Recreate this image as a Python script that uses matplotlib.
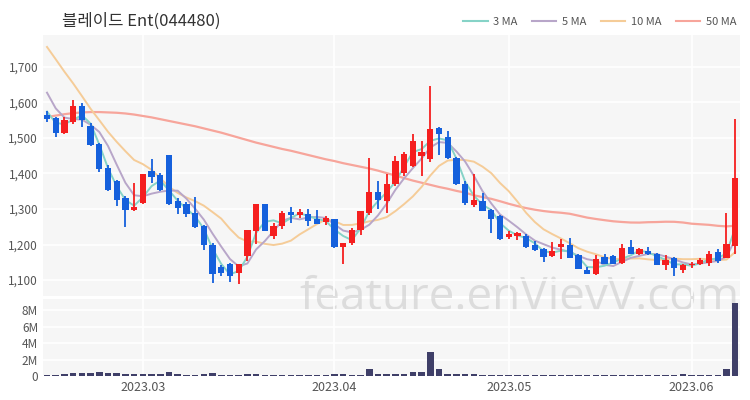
import numpy as np
import matplotlib
matplotlib.use('Agg')
from matplotlib import pyplot as plt
from matplotlib.lines import Line2D
from matplotlib.patches import Rectangle

plt.rcParams['font.family'] = ['Noto Sans CJK KR', 'DejaVu Sans']

title = '블레이드 Ent(044480)'

# daily candles, 80 trading days
opens = [1565, 1556, 1514, 1545, 1590, 1535, 1484, 1415, 1380, 1330,
         1298, 1317, 1407, 1396, 1452, 1322, 1314, 1289, 1252, 1200,
         1137, 1145, 1120, 1168, 1238, 1314, 1224, 1252, 1292, 1283,
         1286, 1272, 1263, 1272, 1193, 1204, 1240, 1289, 1348, 1322,
         1370, 1400, 1421, 1449, 1441, 1528, 1503, 1444, 1370, 1311,
         1322, 1297, 1280, 1221, 1224, 1224, 1199, 1187, 1168, 1193,
         1199, 1170, 1128, 1117, 1165, 1168, 1148, 1193, 1173, 1182,
         1173, 1142, 1162, 1128, 1142, 1145, 1148, 1179, 1162, 1196]
highs = [1575, 1558, 1559, 1607, 1598, 1541, 1487, 1425, 1383, 1336,
         1373, 1398, 1440, 1400, 1452, 1331, 1320, 1334, 1255, 1203,
         1142, 1148, 1145, 1240, 1314, 1314, 1260, 1295, 1306, 1300,
         1300, 1297, 1280, 1272, 1204, 1246, 1294, 1444, 1380, 1398,
         1449, 1460, 1511, 1491, 1646, 1531, 1520, 1447, 1378, 1398,
         1345, 1300, 1283, 1238, 1235, 1230, 1210, 1190, 1207, 1215,
         1218, 1173, 1137, 1170, 1173, 1170, 1201, 1213, 1190, 1193,
         1176, 1170, 1165, 1145, 1150, 1162, 1182, 1187, 1289, 1553]
lows = [1545, 1503, 1510, 1540, 1531, 1478, 1404, 1350, 1308, 1250,
        1295, 1315, 1373, 1350, 1312, 1286, 1277, 1247, 1185, 1092,
        1111, 1094, 1089, 1153, 1201, 1238, 1215, 1243, 1260, 1275,
        1252, 1258, 1255, 1190, 1145, 1200, 1227, 1283, 1301, 1290,
        1365, 1393, 1418, 1393, 1432, 1452, 1441, 1367, 1310, 1305,
        1294, 1232, 1213, 1215, 1213, 1190, 1182, 1150, 1165, 1159,
        1162, 1131, 1117, 1115, 1145, 1145, 1145, 1173, 1170, 1170,
        1142, 1128, 1111, 1120, 1134, 1142, 1140, 1148, 1162, 1173]
closes = [1553, 1514, 1550, 1590, 1552, 1480, 1413, 1353, 1326, 1297,
          1305, 1398, 1390, 1353, 1314, 1303, 1286, 1249, 1199, 1117,
          1120, 1111, 1145, 1240, 1314, 1238, 1252, 1289, 1283, 1292,
          1266, 1258, 1275, 1193, 1204, 1240, 1294, 1348, 1325, 1370,
          1435, 1455, 1491, 1460, 1525, 1511, 1444, 1370, 1317, 1325,
          1294, 1272, 1215, 1230, 1232, 1193, 1185, 1165, 1182, 1201,
          1162, 1131, 1117, 1159, 1145, 1145, 1190, 1173, 1187, 1173,
          1142, 1156, 1134, 1142, 1145, 1156, 1173, 1153, 1201, 1387]
# volume in millions of shares
volumes = [0.18, 0.18, 0.2, 0.35, 0.35, 0.4, 0.5, 0.4, 0.35, 0.3,
           0.25, 0.22, 0.22, 0.22, 0.45, 0.22, 0.18, 0.18, 0.2, 0.4,
           0.18, 0.18, 0.18, 0.2, 0.2, 0.18, 0.15, 0.15, 0.15, 0.15,
           0.12, 0.12, 0.12, 0.2, 0.2, 0.15, 0.18, 0.85, 0.22, 0.22,
           0.25, 0.22, 0.45, 0.45, 2.9, 0.8, 0.3, 0.25, 0.22, 0.2,
           0.18, 0.15, 0.15, 0.15, 0.18, 0.15, 0.12, 0.12, 0.12, 0.12,
           0.12, 0.12, 0.12, 0.12, 0.12, 0.12, 0.12, 0.12, 0.12, 0.12,
           0.12, 0.12, 0.12, 0.22, 0.12, 0.12, 0.12, 0.15, 0.86, 8.86]

# closes before the visible window (needed for the short MAs)
prior_closes = [1860, 1900, 1920, 1905, 1840, 1735, 1680, 1610, 1560]
# 50 MA over the first 49 days
ma50_early = [1559, 1563, 1567, 1570, 1572, 1573, 1573, 1572, 1571, 1569,
              1566, 1562, 1558, 1553, 1548, 1543, 1538, 1533, 1527, 1521,
              1515, 1508, 1501, 1494, 1487, 1481, 1475, 1469, 1464, 1458,
              1452, 1446, 1440, 1435, 1429, 1424, 1419, 1414, 1408, 1401,
              1394, 1387, 1380, 1374, 1368, 1362, 1357, 1351, 1346]

tick_pos = [11, 33, 53, 74]
tick_labels = ['2023.03', '2023.04', '2023.05', '2023.06']

n = len(closes)
x = np.arange(n)
allc = np.array(prior_closes + closes, dtype=float)

def ma(w):
    out = np.convolve(allc, np.ones(w) / w, mode='valid')
    return out[-n:]

ma3 = ma(3)
ma5 = ma(5)
ma10 = ma(10)
c = np.array(closes, dtype=float)
ma50 = list(ma50_early) + [c[i - 49:i + 1].mean() for i in range(49, n)]

RED = '#f51f1f'
BLUE = '#1560dc'
BG = '#f6f6f6'

fig = plt.figure(figsize=(7.5, 4), dpi=100)
rect_p = [43 / 750, 1 - 296 / 400, 697 / 750, 261 / 400]
rect_v = [43 / 750, 1 - 376 / 400, 697 / 750, 77 / 400]
ax = fig.add_axes(rect_p)
axv = fig.add_axes(rect_v)

# gray panels + watermark sit under the (transparent) axes
for r in (rect_p, rect_v):
    fig.patches.append(Rectangle((r[0], r[1]), r[2], r[3], transform=fig.transFigure,
                                 facecolor=BG, edgecolor='none', zorder=-3))
fig.text(519 / 750, 1 - 298 / 400, 'feature.enVievV.com', fontsize=33, color='#c8c8c8',
         alpha=0.55, ha='center', va='center', family=['Open Sans', 'DejaVu Sans'], zorder=-2)

for a in (ax, axv):
    a.patch.set_alpha(0)
    for s in a.spines.values():
        s.set_visible(False)
    a.tick_params(length=0, colors='#555555', labelsize=8.5)
    a.set_xlim(-0.46, n - 0.45)
    a.set_xticks(tick_pos)
    a.grid(True, color='white', linewidth=1.2)
    a.set_axisbelow(True)

# moving averages
ax.plot(x, ma50, color='#f7a59b', lw=1.6, zorder=2)
ax.plot(x, ma10, color='#f5cc98', lw=1.4, zorder=2)
ax.plot(x, ma5, color='#b8a6c9', lw=1.4, zorder=2)
ax.plot(x, ma3, color='#86d3c7', lw=1.4, zorder=2)

# candles
o = np.array(opens, dtype=float)
h = np.array(highs, dtype=float)
l = np.array(lows, dtype=float)
up = c >= o
cols = np.where(up, RED, BLUE)
ax.vlines(x, l, h, colors=cols, lw=1.3, zorder=3)
bottom = np.minimum(o, c)
height = np.maximum(np.abs(c - o), 3)
ax.bar(x, height, bottom=bottom, width=0.72, color=cols, zorder=4)

ax.set_ylim(1055, 1790)
ax.set_yticks([1100, 1200, 1300, 1400, 1500, 1600, 1700])
ax.set_yticklabels(['{:,}'.format(v) for v in [1100, 1200, 1300, 1400, 1500, 1600, 1700]])
ax.set_xticklabels([])

axv.bar(x, volumes, width=0.75, color='#3f3f68', zorder=3)
axv.set_ylim(0, 9.35)
axv.set_yticks([0, 2, 4, 6, 8])
axv.set_yticklabels(['0', '2M', '4M', '6M', '8M'])
axv.set_xticklabels(tick_labels, fontsize=9)

fig.text(62 / 750, 1 - 21 / 400, title, fontsize=12, color='#333333', va='center')

handles = [Line2D([], [], color=cl, lw=1.5) for cl in ['#86d3c7', '#b8a6c9', '#f5cc98', '#f7a59b']]
fig.legend(handles, ['3 MA', '5 MA', '10 MA', '50 MA'], ncol=4, loc='center right',
           bbox_to_anchor=(0.995, 1 - 22 / 400), frameon=False, fontsize=8,
           handlelength=2.2, handletextpad=0.5, columnspacing=1.3, labelcolor='#555555')

fig.savefig('out.png', dpi=100)
